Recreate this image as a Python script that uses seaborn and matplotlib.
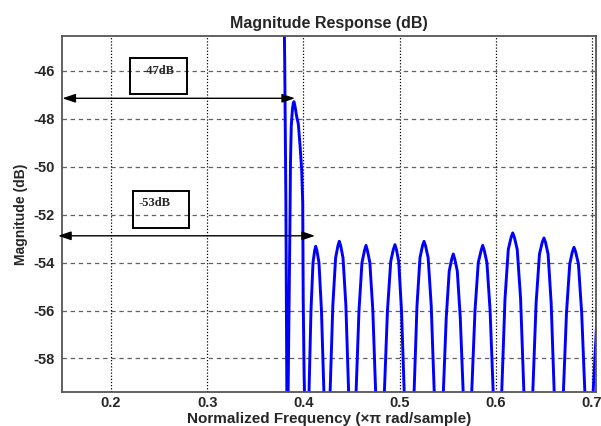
import matplotlib
matplotlib.use("Agg")
import matplotlib.pyplot as plt
import seaborn as sns
import pandas as pd
from matplotlib.patches import Rectangle

# frequency response (normalized freq, dB); -75 = nulls below the view
freq = [0.3790, 0.3806, 0.3818, 0.3828, 0.3835,
        0.3841, 0.3852, 0.3860, 0.3866, 0.3874, 0.3886, 0.3895, 0.3902,
        0.3912, 0.3930, 0.3947, 0.3965, 0.3982, 0.3993, 0.3998, 0.4008, 0.4012, 0.4035,
        0.4058, 0.4079, 0.4100, 0.4117, 0.4128, 0.4141, 0.4162, 0.4188, 0.4214, 0.4245,
        0.4277, 0.4306, 0.4335, 0.4359, 0.4373, 0.4388, 0.4412, 0.4442, 0.4471, 0.4509,
        0.4547, 0.4578, 0.4609, 0.4635, 0.4651, 0.4666, 0.4691, 0.4722, 0.4752, 0.4797,
        0.4841, 0.4874, 0.4908, 0.4935, 0.4952, 0.4967, 0.4991, 0.5020, 0.5049, 0.5100,
        0.5150, 0.5181, 0.5212, 0.5238, 0.5254, 0.5270, 0.5297, 0.5329, 0.5361, 0.5408,
        0.5454, 0.5485, 0.5516, 0.5542, 0.5558, 0.5574, 0.5600, 0.5631, 0.5662, 0.5706,
        0.5749, 0.5784, 0.5818, 0.5847, 0.5864, 0.5881, 0.5908, 0.5941, 0.5974, 0.6018,
        0.6061, 0.6096, 0.6130, 0.6159, 0.6176, 0.6194, 0.6223, 0.6258, 0.6293, 0.6338,
        0.6384, 0.6419, 0.6454, 0.6483, 0.6501, 0.6517, 0.6544, 0.6576, 0.6608, 0.6655,
        0.6702, 0.6735, 0.6769, 0.6796, 0.6813, 0.6830, 0.6859, 0.6893, 0.6927, 0.6970,
        0.7011, 0.7042, 0.7080]
mag_db = [-40.0, -45.7, -51.4, -59.5, -75.0,
          -59.5, -55.5, -52.5, -49.8, -48.3, -47.6, -47.35, -47.28,
          -47.45, -47.9, -48.2, -49.1, -50.1, -51.5, -55.5, -58.7, -59.5, -75.0,
          -59.5, -56.0, -54.0, -53.5, -53.32, -53.5, -54.0, -56.0, -59.5, -75.0,
          -59.5, -55.8, -53.8, -53.3, -53.11, -53.3, -53.8, -55.8, -59.5, -75.0,
          -59.5, -56.0, -54.0, -53.5, -53.28, -53.5, -54.0, -56.0, -59.5, -75.0,
          -59.5, -56.0, -53.95, -53.45, -53.25, -53.45, -53.95, -56.0, -59.5, -75.0,
          -59.5, -55.8, -53.8, -53.3, -53.11, -53.3, -53.8, -55.8, -59.5, -75.0,
          -59.5, -56.3, -54.35, -53.85, -53.64, -53.85, -54.35, -56.3, -59.5, -75.0,
          -59.5, -56.0, -54.0, -53.5, -53.28, -53.5, -54.0, -56.0, -59.5, -75.0,
          -59.5, -55.5, -53.45, -52.95, -52.76, -52.95, -53.45, -55.5, -59.5, -75.0,
          -59.5, -55.7, -53.65, -53.15, -52.97, -53.15, -53.65, -55.7, -59.5, -75.0,
          -59.5, -56.1, -54.05, -53.55, -53.36, -53.55, -54.05, -56.1, -59.5, -75.0,
          -59.5, -57.1, -53.5]

x_ticks = [0.2, 0.3, 0.4, 0.5, 0.6, 0.7]
y_ticks = [-58, -56, -54, -52, -50, -48, -46]
marker_levels = [-47.14, -52.88]
marker_ends = [0.3913, 0.4121]
marker_labels = ["-47dB", "-53dB"]

sns.set_style("white")
plt.rcParams["font.family"] = ["Liberation Sans", "DejaVu Sans"]
plt.rcParams["axes.unicode_minus"] = False

df = pd.DataFrame({"freq": freq, "mag": mag_db})

fig = plt.figure(figsize=(6.01, 4.26), dpi=100)
ax = fig.add_axes([0.1032, 0.0798, 0.8885, 0.8357])

# grid: dashed gray horizontals, dotted black verticals
for yv in y_ticks:
    ax.axhline(yv, color="#606060", lw=0.9, ls=(0, (3.5, 3)), zorder=0)
for xv in x_ticks:
    ax.axvline(xv, color="black", lw=0.9, ls=(0, (1, 1.5)), zorder=0)

sns.lineplot(data=df, x="freq", y="mag", sort=False, estimator=None,
             color="#0000ff", lw=2.1, ax=ax)

ax.set_xlim(0.1491, 0.7042)
ax.set_ylim(-59.4, -44.54)
ax.set_xticks(x_ticks)
ax.set_xticklabels([f"{v:.1f}" for v in x_ticks])
ax.set_yticks(y_ticks)
ax.tick_params(axis="both", direction="in", length=4, labelsize=10.5, color="#444444")
for lab in ax.get_xticklabels() + ax.get_yticklabels():
    lab.set_fontweight("bold")
ax.tick_params(axis="x", pad=3)
ax.tick_params(axis="y", pad=5)
for s in ax.spines.values():
    s.set_color("#555555")
    s.set_linewidth(1.3)

ax.set_title("Magnitude Response (dB)", fontsize=11.5, fontweight="bold", pad=6)
ax.set_xlabel("Normalized Frequency (\u00d7\u03c0 rad/sample)", fontsize=11,
              fontweight="bold", labelpad=1)
ax.set_ylabel("Magnitude (dB)", fontsize=10, fontweight="bold", labelpad=4)

# double arrows marking the sidelobe levels
for lvl, xe, start in zip(marker_levels, marker_ends, [0.1495, 0.1450]):
    ax.annotate("", xy=(xe, lvl), xytext=(start, lvl), annotation_clip=False,
                arrowprops=dict(arrowstyle="<|-|>,head_length=0.65,head_width=0.22",
                                color="black", lw=1.0, mutation_scale=12,
                                shrinkA=0, shrinkB=0))

boxes = [(0.2198, -46.97, 0.0588, 1.50), (0.2232, -52.57, 0.0582, 1.54)]
text_pos = [(0.2492, -45.99), (0.2457, -51.51)]
for (bx, by, bw, bh), (tx, ty), lab in zip(boxes, text_pos, marker_labels):
    ax.add_patch(Rectangle((bx, by), bw, bh, fill=False, ec="black", lw=1.4, zorder=4))
    ax.text(tx, ty, lab, ha="center", va="center", fontsize=9, fontweight="bold",
            family=["Liberation Serif", "DejaVu Serif"], zorder=5)

fig.savefig("out.png", dpi=100)
